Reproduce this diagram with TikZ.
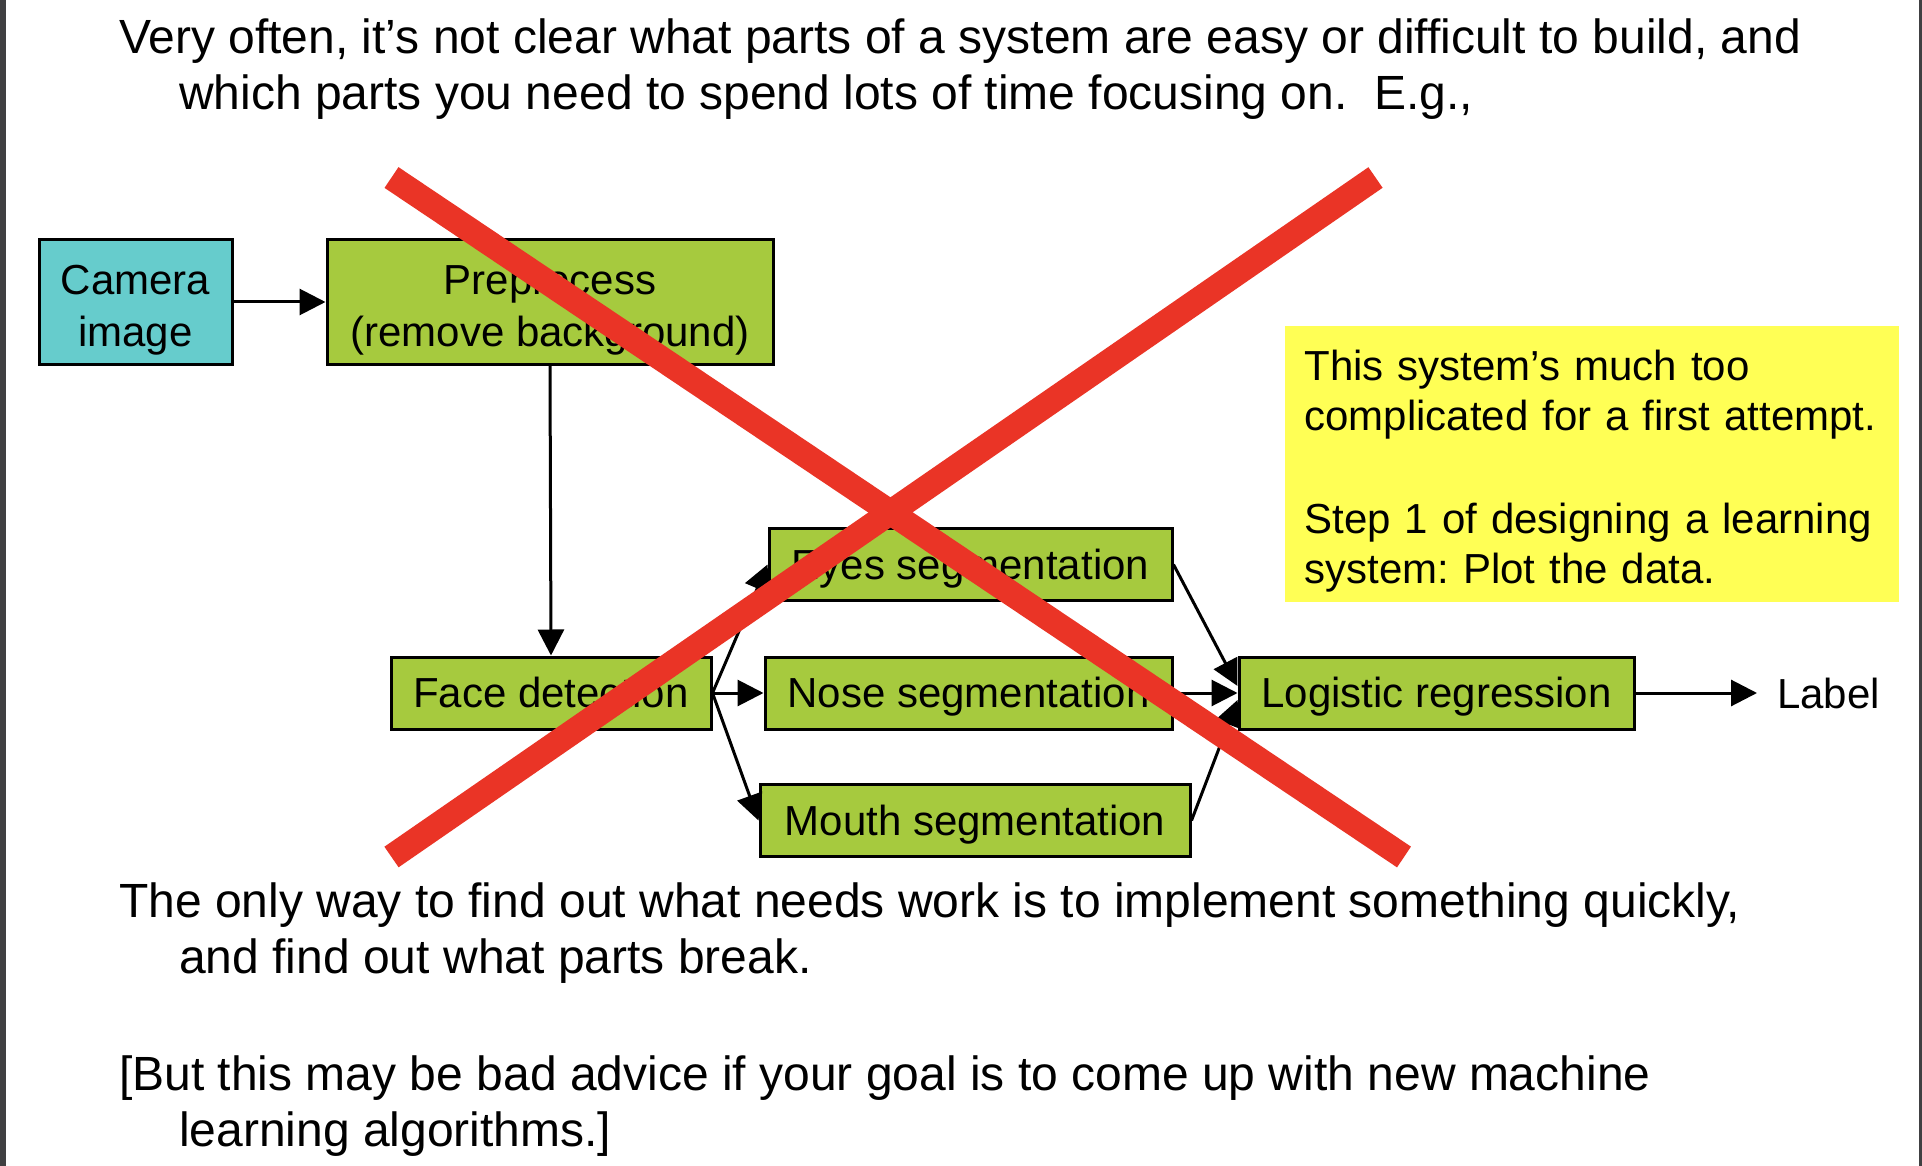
\documentclass[tikz,border=0pt]{standalone}
\usepackage{fontspec}
\setmainfont{Liberation Sans}
\usepackage{tikz}
\usetikzlibrary{arrows.meta,positioning}
\frenchspacing
\definecolor{camblue}{RGB}{102,204,204}
\definecolor{stagegreen}{RGB}{166,202,62}
\definecolor{noteyellow}{RGB}{255,255,85}
\definecolor{crossred}{RGB}{234,52,38}
\definecolor{edgegray}{RGB}{64,64,66}
\newcommand{\bodyfont}{\fontsize{48}{56}\selectfont}
\newcommand{\boxfont}{\fontsize{42}{52}\selectfont}
\newcommand{\notefont}{\fontsize{42}{50.5}\selectfont}
\newcommand{\topstrut}{\rule{0pt}{45pt}}
\def\rowh{72pt}
\tikzstyle{stage} = [rectangle, draw=black, line width=3pt, fill=stagegreen, font=\boxfont, text centered, inner sep=0pt, minimum height=\rowh, text height=38pt, text depth=9pt]
\tikzstyle{twoline} = [stage, align=center, minimum height=124pt, text height=, text depth=]
\tikzstyle{arrow} = [line width=3pt, -{Triangle[length=26pt,width=26pt]}]
\tikzstyle{textline} = [anchor=base west, inner sep=0pt, font=\bodyfont]
\tikzstyle{redcross} = [crossred, line width=25pt]

\begin{document}
\begin{tikzpicture}[x=1pt,y=-1pt]
  \useasboundingbox (0,0) rectangle (1922,1166);
  \fill[white] (0,0) rectangle (1922,1166);
  \fill[edgegray] (0,0) rectangle (6,1166);
  \fill[edgegray] (1919,0) rectangle (1922,1166);
  % heading
  \node[textline] (intro1) at (119,54) {Very often, it’s not clear what parts of a system are easy or difficult to build, and};
  \node[textline] (intro2) at (179,110) {which parts you need to spend lots of time focusing on.~~E.g.,};
  % pipeline
  \node[twoline, fill=camblue, minimum width=193pt] (camera) at (135.5,302) {\topstrut Camera\\image};
  \node[twoline, minimum width=446pt] (prep) at (550,302) {\topstrut Preprocess\\(remove background)};
  \node[stage, minimum width=320pt] (face) at (551,693) {Face detection};
  \node[stage, minimum width=403pt] (eyes) at (970.5,564.5) {Eyes segmentation};
  \node[stage, minimum width=407pt] (nose) at (968.5,693) {Nose segmentation};
  \node[stage, minimum width=430pt] (mouth) at (975,820.5) {Mouth segmentation};
  \node[stage, minimum width=395pt] (logreg) at (1436.5,693) {Logistic regression};
  \node[font=\boxfont, anchor=west, inner sep=0pt] (label) at (1777,693) {Label};
  \draw[arrow] (camera) -- (prep);
  \draw[arrow] (prep.south) -- (face.north);
  \draw[arrow] (face.east) -- (eyes.west);
  \draw[arrow] (face.east) -- (nose.west);
  \draw[arrow] (face.east) -- (mouth.west);
  \draw[arrow] (eyes.east) -- ([yshift=7pt]logreg.west);
  \draw[arrow] (nose.east) -- (logreg.west);
  \draw[arrow] (mouth.east) -- ([yshift=-7pt]logreg.west);
  \draw[arrow] (logreg.east) -- ([xshift=-20pt]label.west);
  % note
  \node[fill=noteyellow, minimum width=614pt, minimum height=276pt, text width=575pt, font=\notefont, align=left, inner sep=0pt] (note) at (1592,464)
    {\topstrut This system’s much too\\complicated for a first attempt.\\[52pt]Step 1 of designing a learning\\system: Plot the data.};
  % cross over the pipeline
  \coordinate (xa) at (391.5,177.5);
  \coordinate (xb) at (1404,857);
  \coordinate (xc) at (1375.5,177.5);
  \coordinate (xd) at (391.5,857);
  \draw[redcross] (xa) -- (xb);
  \draw[redcross] (xc) -- (xd);
  % closing remarks
  \node[textline] (outro1) at (119,917) {The only way to find out what needs work is to implement something quickly,};
  \node[textline] (outro2) at (179,973) {and find out what parts break.};
  \node[textline] (advice1) at (119,1090) {[But this may be bad advice if your goal is to come up with new machine};
  \node[textline] (advice2) at (179,1146) {learning algorithms.]};
\end{tikzpicture}
\end{document}
